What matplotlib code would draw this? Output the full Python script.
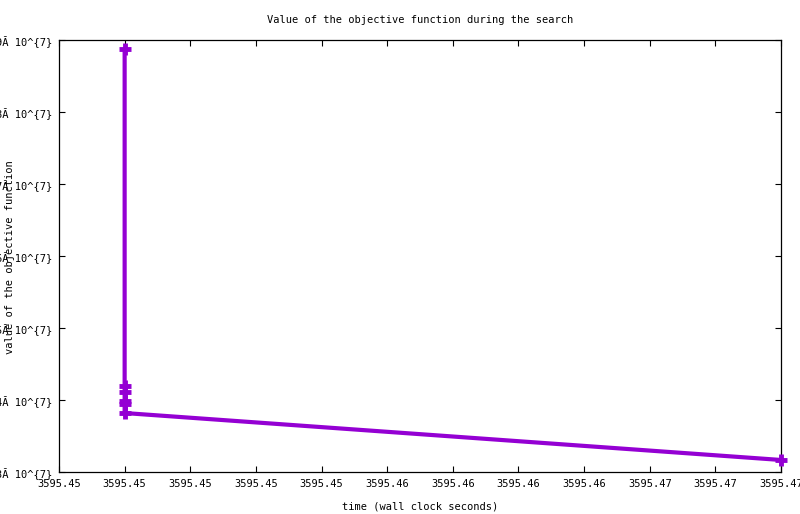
import matplotlib
matplotlib.use('Agg')
import matplotlib.pyplot as plt

# data (y in units of the tick mantissa)
time_s = [3595.4478, 3595.4478, 3595.4478, 3595.4478, 3595.4478, 3595.4478, 3595.4698]
objective = [8.875, 4.194, 4.111, 3.986, 3.944, 3.819, 3.167]

x_ticks = [3595.4456 + 0.0022 * i for i in range(12)]
y_ticks = [3, 4, 5, 6, 7, 8, 9]
y_ticklabels = ['%dĂ 10^{7}' % v for v in y_ticks]

purple = '#9400D3'
font = 'DejaVu Sans Mono'
fs = 7.5

fig = plt.figure(figsize=(8.0, 5.14), dpi=100)
ax = fig.add_axes([59 / 800, 42 / 514, 722 / 800, 432 / 514])

ax.plot(time_s, objective, color=purple, lw=3, marker='+', ms=9, mew=3.5,
        solid_capstyle='butt', clip_on=False, zorder=3)

ax.set_xlim(x_ticks[0], x_ticks[-1])
ax.set_ylim(3, 9)
ax.set_xticks(x_ticks)
ax.set_xticklabels(['%.2f' % v for v in x_ticks], fontfamily=font, fontsize=fs)
ax.set_yticks(y_ticks)
ax.set_yticklabels(y_ticklabels, fontfamily=font, fontsize=fs)
ax.tick_params(direction='in', top=True, right=True, length=4.5, width=0.8,
               pad=5)
ax.tick_params(axis='y', pad=5)
for s in ax.spines.values():
    s.set_linewidth(0.9)

ax.set_title('Value of the objective function during the search',
             fontfamily=font, fontsize=fs, pad=12)
ax.set_xlabel('time (wall clock seconds)', fontfamily=font, fontsize=fs,
              labelpad=9)
fig.text(10 / 800, 0.5, 'value of the objective function', rotation=90,
         ha='center', va='center', fontfamily=font, fontsize=fs)

fig.savefig('out.png', dpi=100)
